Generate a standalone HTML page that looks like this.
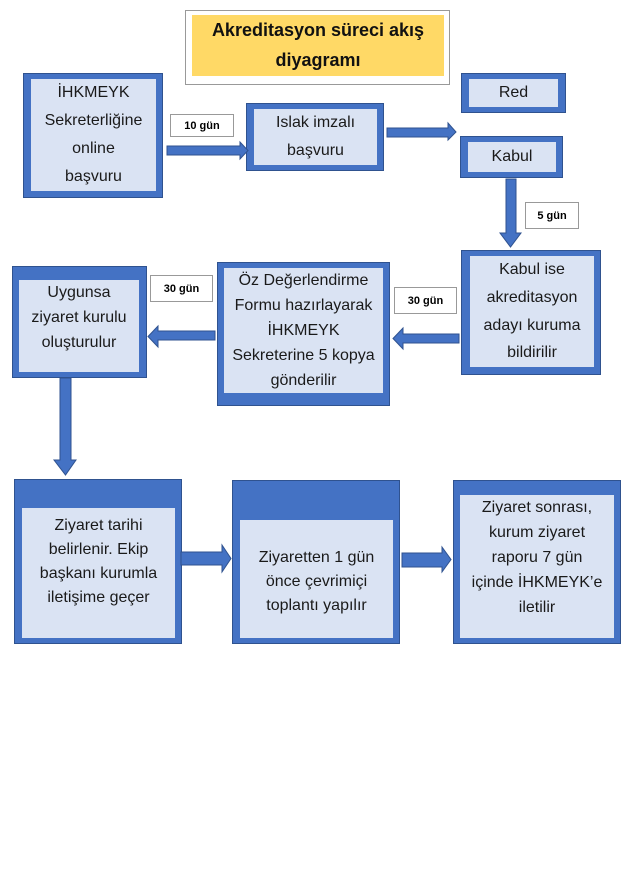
<!DOCTYPE html>
<html><head><meta charset="utf-8"><style>
body{margin:0;width:629px;height:890px;background:#fff;position:relative;overflow:hidden;font-family:"Liberation Sans",sans-serif}
.b{position:absolute;background:#4472c4;box-shadow:0 0 0 1px #2f528f}
.i{position:absolute;background:#dae3f3;color:#1a1a1a;text-align:center;font-size:16px}
.i div{display:flex;align-items:center;justify-content:center;white-space:nowrap}
.l{position:absolute;background:#fff;border:1px solid #999;font-size:11px;font-weight:bold;display:flex;align-items:center;justify-content:center;box-sizing:border-box}
svg{position:absolute;left:0;top:0}
</style></head><body>
<div style="position:absolute;left:185px;top:10px;width:265px;height:75px;border:1px solid #999;box-sizing:border-box;background:#fff"></div>
<div style="position:absolute;left:192px;top:15px;width:252px;height:61px;background:#ffd966;font-weight:bold;font-size:18px;text-align:center;line-height:30px;color:#111">Akreditasyon süreci akış<br>diyagramı</div>

<div class="b" style="left:24px;top:74px;width:138px;height:123px"></div>
<div class="i" style="left:31px;top:79px;width:125px;height:112px"><div style="height:28px">İHKMEYK</div><div style="height:28px">Sekreterliğine</div><div style="height:28px">online</div><div style="height:28px">başvuru</div></div>

<div class="b" style="left:247px;top:104px;width:136px;height:66px"></div>
<div class="i" style="left:254px;top:109px;width:123px;height:56px"><div style="height:28px">Islak imzalı</div><div style="height:28px">başvuru</div></div>

<div class="b" style="left:462px;top:74px;width:103px;height:38px"></div>
<div class="i" style="left:469px;top:79px;width:89px;height:28px"><div style="height:28px">Red</div></div>

<div class="b" style="left:461px;top:137px;width:101px;height:40px"></div>
<div class="i" style="left:468px;top:142px;width:88px;height:30px"><div style="height:30px">Kabul</div></div>

<div class="b" style="left:462px;top:251px;width:138px;height:123px"></div>
<div class="i" style="left:470px;top:256px;width:124px;height:111px"><div style="height:28px">Kabul ise</div><div style="height:28px">akreditasyon</div><div style="height:27px">adayı kuruma</div><div style="height:28px">bildirilir</div></div>

<div class="b" style="left:218px;top:263px;width:171px;height:142px"></div>
<div class="i" style="left:224px;top:268px;width:159px;height:125px"><div style="height:25px">Öz Değerlendirme</div><div style="height:25px">Formu hazırlayarak</div><div style="height:25px">İHKMEYK</div><div style="height:25px">Sekreterine 5 kopya</div><div style="height:25px">gönderilir</div></div>

<div class="b" style="left:13px;top:267px;width:133px;height:110px"></div>
<div class="i" style="left:19px;top:280px;width:120px;height:92px"><div style="height:25px">Uygunsa</div><div style="height:25px">ziyaret kurulu</div><div style="height:25px">oluşturulur</div></div>

<div class="b" style="left:15px;top:480px;width:166px;height:163px"></div>
<div class="i" style="left:22px;top:508px;width:153px;height:130px"><div style="height:6px"></div><div style="height:24px">Ziyaret tarihi</div><div style="height:24px">belirlenir. Ekip</div><div style="height:24px">başkanı kurumla</div><div style="height:24px">iletişime geçer</div></div>

<div class="b" style="left:233px;top:481px;width:166px;height:162px"></div>
<div class="i" style="left:240px;top:520px;width:153px;height:118px"><div style="height:26px"></div><div style="height:24px">Ziyaretten 1 gün</div><div style="height:24px">önce çevrimiçi</div><div style="height:24px">toplantı yapılır</div></div>

<div class="b" style="left:454px;top:481px;width:166px;height:162px"></div>
<div class="i" style="left:460px;top:495px;width:154px;height:143px"><div style="height:25px">Ziyaret sonrası,</div><div style="height:25px">kurum ziyaret</div><div style="height:25px">raporu 7 gün</div><div style="height:25px">içinde İHKMEYK’e</div><div style="height:25px">iletilir</div></div>

<div class="l" style="left:170px;top:114px;width:64px;height:23px">10 gün</div>
<div class="l" style="left:525px;top:202px;width:54px;height:27px">5 gün</div>
<div class="l" style="left:394px;top:287px;width:63px;height:27px">30 gün</div>
<div class="l" style="left:150px;top:275px;width:63px;height:27px">30 gün</div>

<svg width="629" height="890" fill="#4472c4" stroke="#2f528f" stroke-width="1">
<polygon points="167,146 240,146 240,142 248,150.5 240,159 240,155 167,155"/>
<polygon points="387,128 448,128 448,123 456,132 448,140 448,137 387,137"/>
<polygon points="506,179 516,179 516,233 521,233 510.5,247 500,233 506,233"/>
<polygon points="459,334 403,334 403,328 393,338.5 403,349 403,343 459,343"/>
<polygon points="215,331 158,331 158,326 148,336.5 158,347 158,340 215,340"/>
<polygon points="60,378 71,378 71,460 76,460 65.5,475 54,460 60,460"/>
<polygon points="181,552 222,552 222,545 231,558.5 222,572 222,565 181,565"/>
<polygon points="402,553 442,553 442,547 451,559.5 442,572 442,567 402,567"/>
</svg>
</body></html>
